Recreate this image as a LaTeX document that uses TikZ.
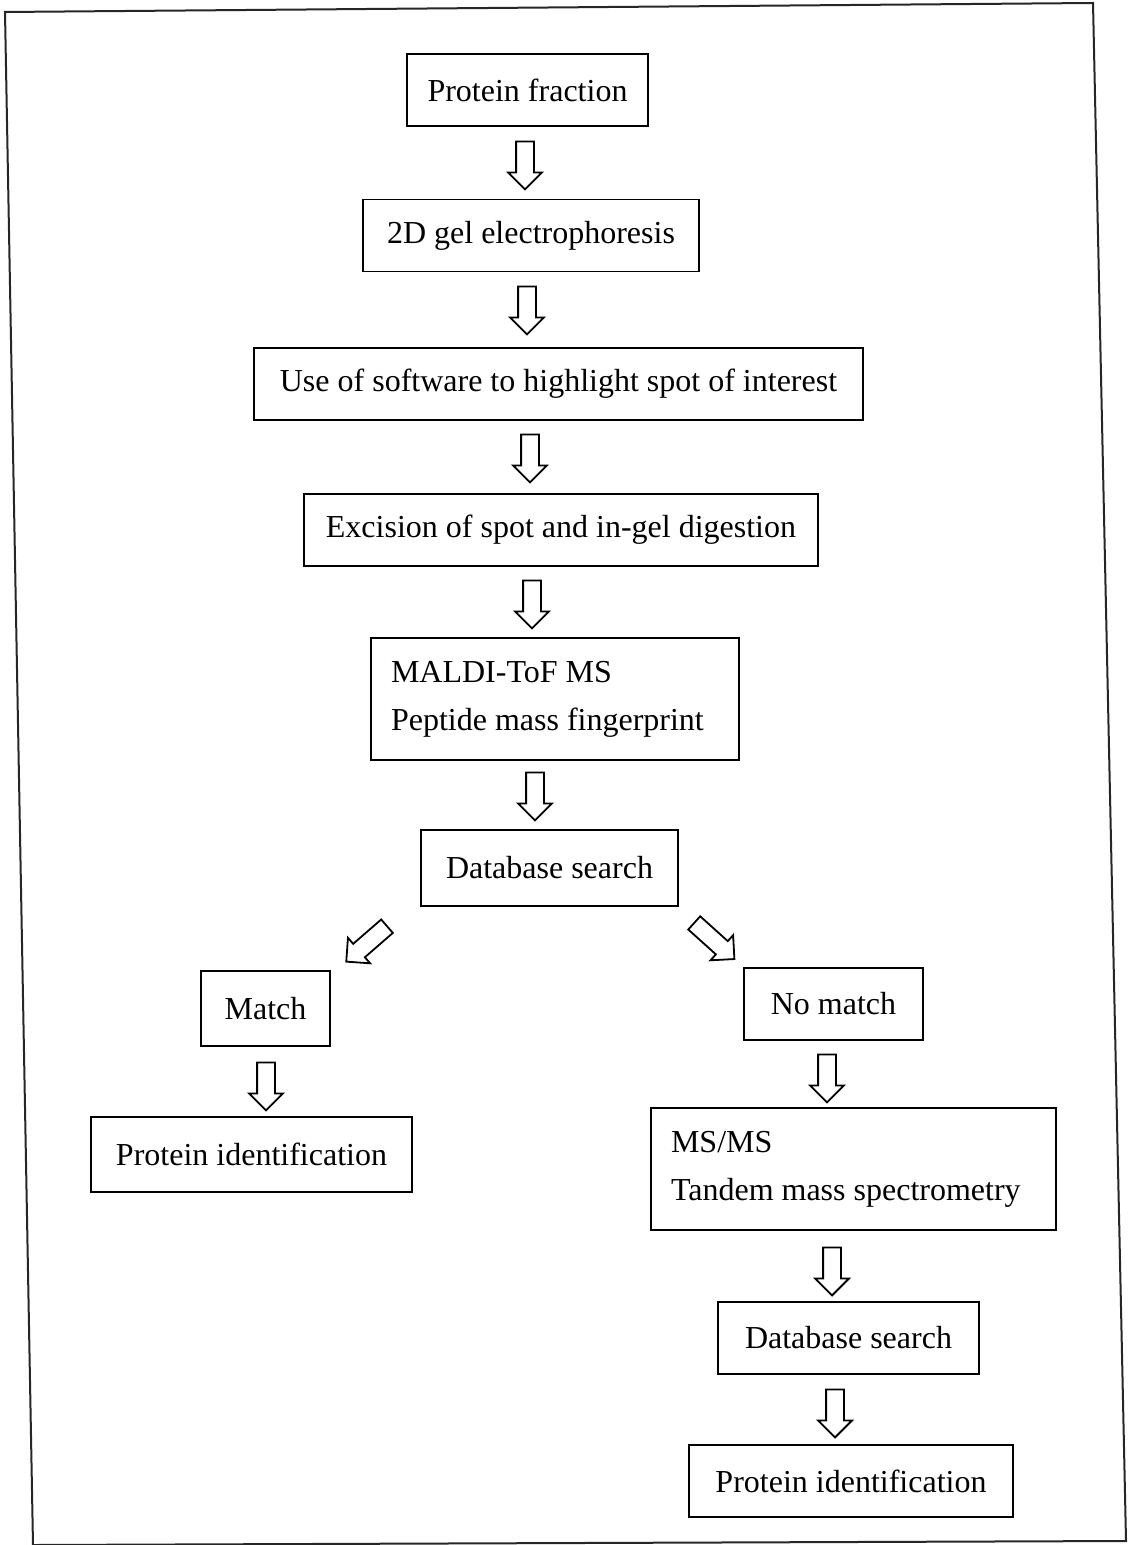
\documentclass[tikz,border=0pt]{standalone}
\usepackage{fontspec}
\setmainfont{Liberation Serif}
\usepackage{tikz}
\usetikzlibrary{shapes.arrows,calc}
\tikzset{
  flowbox/.style={
    draw=black,
    line width=0.9pt,
    align=center,
    inner xsep=10pt,
    inner ysep=4pt,
    minimum height=36pt,
    font=\fontsize{16}{19}\selectfont
  },
  flowbox2/.style={flowbox,align=flush left,minimum height=61pt,
                   font=\fontsize{16}{24}\selectfont},
  hollowarrow/.style={single arrow,draw=black,line width=0.9pt,fill=white,
                      inner sep=4pt,single arrow head extend=4pt,
                      minimum height=24pt},
  frameline/.style={line width=1pt,black!85}
}
\begin{document}
\begin{tikzpicture}[x=0.5pt,y=-0.5pt]
  \useasboundingbox (0,0) rectangle (1135,1545);
  % outer frame (scanned, slightly skewed)
  \coordinate (ftl) at (5,12);
  \coordinate (ftr) at (1093,3);
  \coordinate (fbr) at (1126,1541);
  \coordinate (fbl) at (33,1545);
  \draw[frameline] (ftl) -- (ftr) -- (fbr) -- (fbl) -- cycle;

  % main column
  \node[flowbox,minimum width=120.5pt] (pf) at (527.5,90) {Protein fraction};
  \node[flowbox,minimum width=168pt] (gel) at (531,235.5) {2D gel electrophoresis};
  \node[flowbox,minimum width=304.5pt] (soft) at (558.5,384) {Use of software to highlight spot of interest};
  \node[flowbox,minimum width=257pt] (exc) at (561,530) {Excision of spot and in-gel digestion};
  \node[flowbox2,text width=164pt] (maldi) at (555,699) {MALDI-ToF MS\\Peptide mass fingerprint};
  \node[flowbox,minimum width=128.5pt,minimum height=38pt] (db) at (549.5,868) {Database search};

  % left branch
  \node[flowbox,minimum width=64.5pt,minimum height=37.5pt] (match) at (265.5,1008.5) {Match};
  \node[flowbox,minimum width=160.5pt,minimum height=37.5pt] (pidl) at (251.5,1154.5) {Protein identification};

  % right branch
  \node[flowbox,minimum width=89.5pt] (nomatch) at (833.5,1004) {No match};
  \node[flowbox2,text width=182.5pt] (msms) at (853.5,1169) {MS/MS\\Tandem mass spectrometry};
  \node[flowbox,minimum width=130.5pt] (db2) at (848.5,1338) {Database search};
  \node[flowbox,minimum width=162pt] (pidr) at (851,1481) {Protein identification};

  % hollow arrows between the boxes
  \node[hollowarrow,rotate=-90] (a1) at (525,161) {};
  \node[hollowarrow,rotate=-90] (a2) at (527,306) {};
  \node[hollowarrow,rotate=-90] (a3) at (530,454) {};
  \node[hollowarrow,rotate=-90] (a4) at (532,600) {};
  \node[hollowarrow,rotate=-90] (a5) at (535,792) {};
  \node[hollowarrow,rotate=221,minimum height=27pt] (a6) at (370,941) {};
  \node[hollowarrow,rotate=-42,minimum height=27pt] (a7) at (711,938) {};
  \node[hollowarrow,rotate=-90] (a8) at (266,1082) {};
  \node[hollowarrow,rotate=-90] (a9) at (827,1074) {};
  \node[hollowarrow,rotate=-90] (a10) at (832,1267) {};
  \node[hollowarrow,rotate=-90] (a11) at (835,1409) {};
\end{tikzpicture}
\end{document}
